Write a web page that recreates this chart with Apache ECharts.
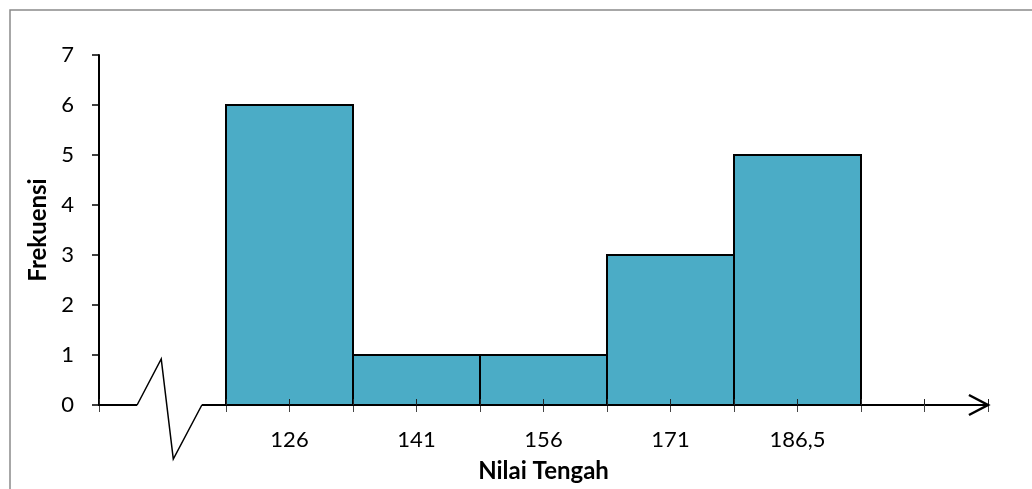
<!DOCTYPE html>
<html>
<head>
<meta charset="utf-8">
<script src="https://cdn.jsdelivr.net/npm/echarts@6/dist/echarts.min.js"></script>
<style>
  html, body { margin: 0; padding: 0; background: #fff; }
  #chart { width: 1032px; height: 489px; }
</style>
</head>
<body>
<div id="chart"></div>
<script>
// nilai tengah tiap kelas dan frekuensinya
const classLabels = ['126', '141', '156', '171', '186,5']
const frequencies = [6, 1, 1, 3, 5]
const yTicks = [0, 1, 2, 3, 4, 5, 6, 7]

const font = 'Lato'
const chart = echarts.init(document.getElementById('chart'))

// label di bawah tengah tiap batang (batang ke-i mulai di 2 + 2i)
function xLabel(v) {
  const i = (v - 3) / 2
  if (Number.isInteger(i) && i >= 0 && i < classLabels.length) return classLabels[i]
  return ''
}

const baseX = {
  type: 'value',
  min: 0,
  max: 14,
  interval: 1,
  position: 'bottom',
  offset: 0,
  splitLine: {show: false}
}

const option = {
  backgroundColor: '#fff',
  animation: false,
  graphic: [{
    type: 'rect',
    shape: {x: 10, y: 10, width: 1040, height: 500},
    style: {fill: 'none', stroke: '#8a8a8a', lineWidth: 1.5},
    silent: true
  }],
  grid: {left: 99, right: 44, top: 55, bottom: 84, containLabel: false},
  xAxis: [
    Object.assign({}, baseX, {
      name: 'Nilai Tengah',
      nameLocation: 'middle',
      nameGap: 54,
      nameTextStyle: {fontFamily: font, fontSize: 24, fontWeight: 'bold', color: '#000'},
      axisLine: {onZero: false, lineStyle: {color: '#000', width: 2}},
      axisTick: {show: true, inside: false, length: 7, lineStyle: {color: '#444', width: 1}},
      axisLabel: {
        margin: 24,
        fontFamily: font,
        fontSize: 22,
        color: '#000',
        formatter: xLabel
      }
    }),
    Object.assign({}, baseX, {
      z: 3,
      axisLine: {show: false, onZero: false},
      axisTick: {show: true, inside: true, length: 6, lineStyle: {color: '#222', width: 1}},
      axisLabel: {show: false}
    })
  ],
  yAxis: {
    type: 'value',
    min: yTicks[0],
    max: yTicks[yTicks.length - 1],
    interval: 1,
    name: 'Frekuensi',
    nameLocation: 'middle',
    nameGap: 48,
    nameTextStyle: {fontFamily: font, fontSize: 24, fontWeight: 'bold', color: '#000'},
    axisLine: {show: true, lineStyle: {color: '#000', width: 2}},
    axisTick: {show: true, inside: false, length: 7, lineStyle: {color: '#000', width: 1.5}},
    axisLabel: {margin: 25, fontFamily: font, fontSize: 22, color: '#000'},
    splitLine: {show: false}
  },
  series: [
    {
      // batang histogram
      type: 'custom',
      xAxisIndex: 0,
      z: 2,
      data: frequencies.map((v, i) => [i, v]),
      renderItem: function(params, api) {
        const i = api.value(0)
        const x0 = 2 + 2 * i
        const p0 = api.coord([x0, api.value(1)])
        const p1 = api.coord([x0 + 2, 0])
        return {
          type: 'rect',
          shape: {x: p0[0], y: p0[1], width: p1[0] - p0[0], height: p1[1] - p0[1]},
          style: {fill: '#4BACC6', stroke: '#000', lineWidth: 2}
        }
      }
    },
    {
      // tanda patahan sumbu + panah
      type: 'custom',
      xAxisIndex: 0,
      z: 5,
      silent: true,
      data: [[0, 0]],
      renderItem: function(params, api) {
        const c = p => api.coord(p)
        return {
          type: 'group',
          children: [
            {
              type: 'line',
              shape: {x1: c([0.6, 0])[0], y1: c([0.6, 0])[1], x2: c([1.62, 0])[0], y2: c([1.62, 0])[1]},
              style: {stroke: '#fff', lineWidth: 16}
            },
            {
              type: 'polyline',
              shape: {points: [c([0.6, 0]), c([0.98, 0.92]), c([1.17, -1.08]), c([1.62, 0])]},
              style: {stroke: '#000', lineWidth: 1.5, fill: 'none'}
            },
            {
              type: 'line',
              shape: {x1: c([0, 0])[0], y1: c([0, 0])[1], x2: c([0.6, 0])[0], y2: c([0.6, 0])[1]},
              style: {stroke: '#000', lineWidth: 2}
            },
            {
              type: 'line',
              shape: {x1: c([1.62, 0])[0], y1: c([1.62, 0])[1], x2: c([2, 0])[0], y2: c([2, 0])[1]},
              style: {stroke: '#000', lineWidth: 2}
            },
            {
              type: 'polyline',
              shape: {points: [c([13.7, 0.2]), c([14, 0]), c([13.7, -0.2])]},
              style: {stroke: '#000', lineWidth: 2.5, fill: 'none'}
            }
          ]
        }
      }
    }
  ]
}

chart.setOption(option)
</script>
</body>
</html>
